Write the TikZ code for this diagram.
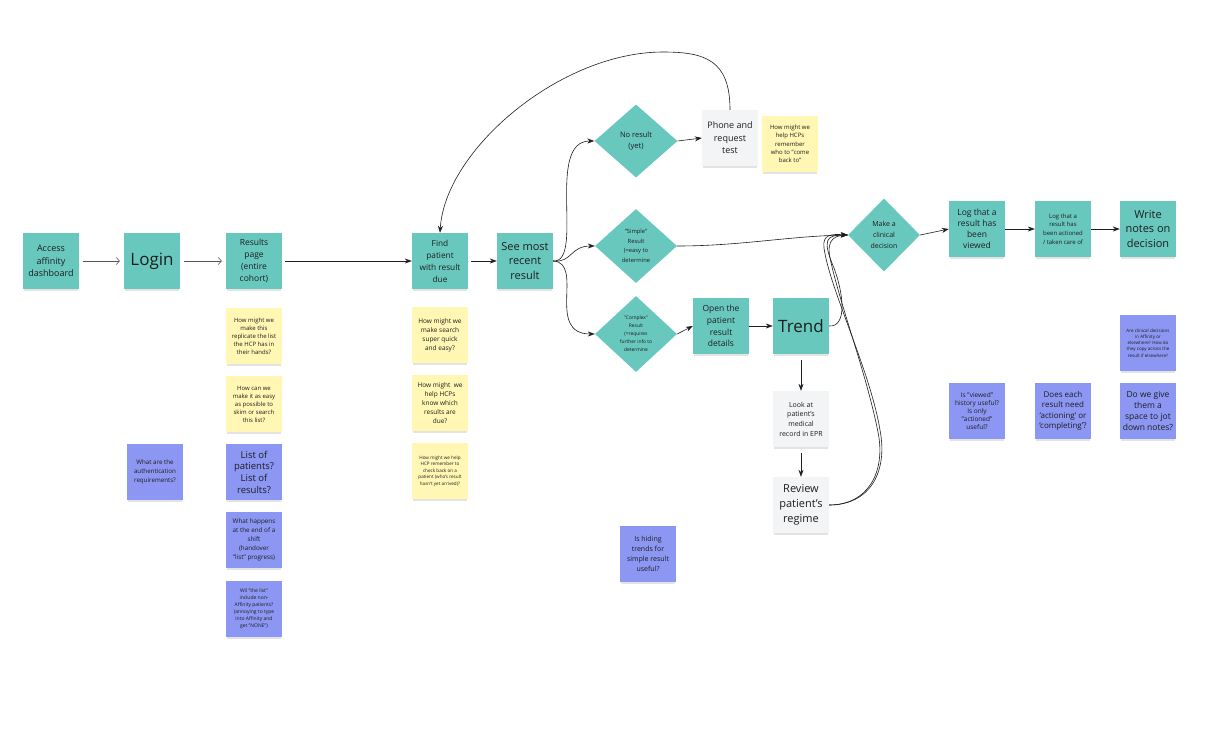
\documentclass[tikz,border=0pt]{standalone}
\usepackage{fontspec}
\setmainfont{Open Sans}
\usetikzlibrary{shapes.geometric,arrows.meta,shadows}
\definecolor{tealc}{HTML}{68C8BE}
\definecolor{yel}{HTML}{FFF7B3}
\definecolor{blu}{HTML}{8B97F3}
\definecolor{gry}{HTML}{F3F4F6}
\definecolor{ink}{HTML}{1E1E1E}
\definecolor{lineg}{HTML}{555555}
\newcommand{\fsz}[2]{\fontsize{#1}{#2}\selectfont}
\tikzset{
 sticky/.style={rectangle, minimum width=56pt, minimum height=56pt, inner sep=0pt, align=center, text=ink,
   drop shadow={opacity=0.22, shadow xshift=0pt, shadow yshift=-3pt, shadow scale=0.96}},
 tbox/.style={sticky, fill=tealc},
 ybox/.style={sticky, fill=yel},
 bbox/.style={sticky, fill=blu},
 gbox/.style={sticky, fill=gry},
 dbox/.style={diamond, fill=tealc, inner sep=0pt, align=center, text=ink},
 arr/.style={draw=ink, line width=0.6pt, -{Stealth[length=7pt,width=5pt]}},
 garr/.style={draw=lineg, line width=0.6pt, -{Straight Barb[length=3pt,width=7pt]}},
 plainline/.style={draw=ink, line width=0.6pt},
}
\begin{document}
\begin{tikzpicture}[x=1pt,y=-1pt]
\useasboundingbox[fill=white] (0,0) rectangle (1216,753);

% ---- left column
\node[tbox, font=\fsz{9}{12.3}] (access) at (51,261) {Access\\affinity\\dashboard};
\node[tbox, font=\fsz{17}{20}] (login) at (152,261) {Login};
\node[tbox, font=\fsz{8.5}{12}] (results) at (254,261) {Results\\page\\(entire\\cohort)};
\node[ybox, font=\fsz{6}{8}] (y1) at (254,336) {How might we\\make this\\replicate the list\\the HCP has in\\their hands?};
\node[ybox, font=\fsz{6}{8}] (y2) at (254,404) {How can we\\make it as easy\\as possible to\\skim or search\\this list?};
\node[bbox, font=\fsz{9.5}{11.7}] (b1) at (254,472) {List of\\patients?\\List of\\results?};
\node[bbox, font=\fsz{6.3}{9}] (b2) at (254,540) {What happens\\at the end of a\\shift\\(handover\\"list" progress)};
\node[bbox, font=\fsz{5}{7}] (b3) at (254,609) {Wil "the list"\\include non-\\Affinity patients?\\(annoying to type\\into Affinity and\\get "NONE")};
\node[bbox, font=\fsz{6.2}{8.8}] (auth) at (155,472) {What are the\\authentication\\requirements?};

% ---- find / see
\node[tbox, font=\fsz{8.3}{12}] (find) at (440,261) {Find\\patient\\with result\\due};
\node[tbox, font=\fsz{11}{14.2}] (see) at (525,261) {See most\\recent\\result};
\node[ybox, font=\fsz{6.5}{9}] (y3) at (440,335) {How might we\\make search\\super quick\\and easy?};
\node[ybox, font=\fsz{6.5}{9}] (y4) at (440,403) {How might\ \ we\\help HCPs\\know which\\results are\\due?};
\node[ybox, font=\fsz{4.6}{6.4}] (y5) at (440,471) {How might we help\\HCP remember to\\check back on a\\patient (who's result\\hasn't yet arrived)?};

% ---- branches
\node[dbox, minimum width=83pt, minimum height=73pt, font=\fsz{7.5}{11}] (nores) at (636,141) {No result\\(yet)};
\node[gbox, font=\fsz{9}{12.5}] (phone) at (730,138) {Phone and\\request\\test};
\node[ybox, font=\fsz{6}{8.3}] (y6) at (790,144) {How might we\\help HCPs\\remember\\who to "come\\back to"};
\node[dbox, minimum width=82pt, minimum height=74pt, font=\fsz{5.8}{9.5}] (simple) at (636,246) {"Simple"\\Result\\(≈easy to\\determine};
\node[dbox, minimum width=82pt, minimum height=76pt, font=\fsz{4.9}{8}] (complex) at (636,334) {"Complex"\\Result\\(≈requires\\further info to\\determine};
\node[tbox, font=\fsz{8.5}{11.7}] (open) at (721,326) {Open the\\patient\\result\\details};
\node[tbox, font=\fsz{17}{20}] (trend) at (801,326) {Trend};
\node[gbox, font=\fsz{7}{9.7}] (look) at (801,419) {Look at\\patient's\\medical\\record in EPR};
\node[gbox, font=\fsz{11}{15}] (review) at (801,505) {Review\\patient's\\regime};
\node[bbox, font=\fsz{7}{10}] (hiding) at (648,554) {Is hiding\\trends for\\simple result\\useful?};

% ---- right part
\node[dbox, minimum width=72pt, minimum height=73pt, font=\fsz{7}{11}] (decision) at (884,235) {Make a\\clinical\\decision};
\node[tbox, font=\fsz{8.5}{11}] (viewed) at (977,229) {Log that a\\result has\\been\\viewed};
\node[tbox, font=\fsz{6}{8.7}] (actioned) at (1063,229) {Log that a\\result has\\been actioned\\/ taken care of};
\node[tbox, font=\fsz{11}{14.5}] (notes) at (1148,229) {Write\\notes on\\decision};
\node[bbox, font=\fsz{6.5}{7.8}] (isviewed) at (977,411) {Is "viewed"\\history useful?\\Is only\\"actioned"\\useful?};
\node[bbox, font=\fsz{8}{10.3}] (doeseach) at (1063,411) {Does each\\result need\\`actioning' or\\`completing'?};
\node[bbox, font=\fsz{4.5}{6.2}] (arecl) at (1148,343) {Are clinical decisions\\in Affinity or\\elsewhere? How do\\they copy across the\\result if elsewhere?};
\node[bbox, font=\fsz{8.5}{10.8}] (dowe) at (1148,411) {Do we give\\them a\\space to jot\\down notes?};

% ---- connectors
\draw[garr, shorten <=4pt, shorten >=4pt] (access) -- (login);
\draw[garr, shorten <=4pt, shorten >=4pt] (login) -- (results);
\draw[arr, shorten <=3pt] (results) -- (find);
\draw[arr, shorten <=3pt] (find) -- (see);
\draw[arr] (see.east) .. controls (585,263) and (545,141) .. (nores.west);
\draw[arr] (see.east) .. controls (572,263) and (570,246) .. (simple.west);
\draw[arr] (see.east) .. controls (585,263) and (545,334) .. (complex.west);
\draw[arr] (nores.east) -- (phone.west);
\draw[arr] (phone.north) .. controls (730,60) and (705,52) .. (663,52) .. controls (560,52) and (445,150) .. (find.north);
\draw[arr] (simple.east) .. controls (740,246) and (790,236) .. (decision.west);
\draw[arr] (complex.east) -- (open.west);
\draw[arr] (open) -- (trend);
\draw[arr] (trend.east) .. controls (848,327) and (843,292) .. (834,268) .. controls (822,240) and (826,235) .. (decision.west);
\draw[arr, shorten <=6pt] (trend) -- (look);
\draw[arr, shorten <=6pt] (look) -- (review);
\draw[arr] (review.east) .. controls (870,505) and (888,472) .. (880,430) .. controls (870,370) and (830,290) .. (824,248) .. controls (822,234) and (832,234) .. (decision.west);
\draw[plainline] (review.east) .. controls (868,505) and (886,472) .. (878,432) .. controls (866,372) and (840,305) .. (830,258) .. controls (826,238) and (836,235) .. (decision.west);
\draw[arr] (decision.east) -- (viewed.west);
\draw[arr] (viewed) -- (actioned);
\draw[arr] (actioned) -- (notes);
\end{tikzpicture}
\end{document}
